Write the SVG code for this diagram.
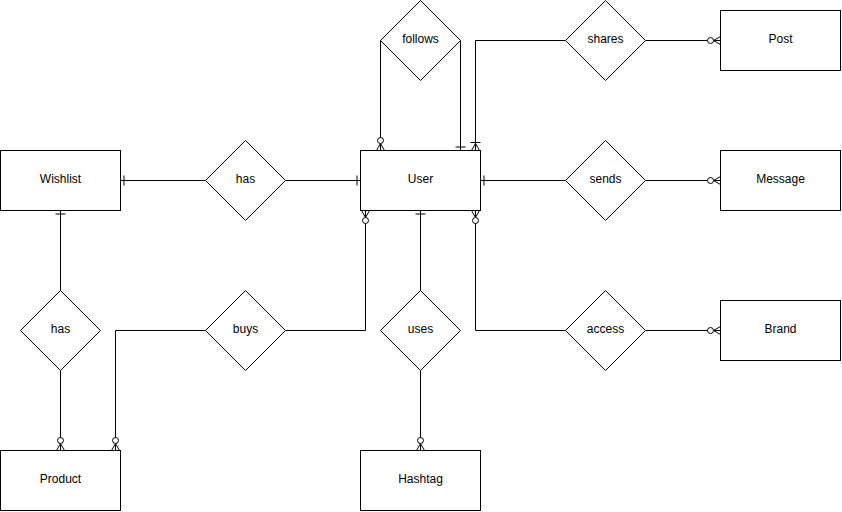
<svg xmlns="http://www.w3.org/2000/svg" width="842" height="512" viewBox="0 0 842 512">
<style>
.ent{fill:#fff;stroke:#000;stroke-width:1}
.rel{fill:#fff;stroke:#000;stroke-width:1}
.lbl{font-family:"Liberation Sans",Arial,sans-serif;font-size:12px;fill:#000;text-anchor:middle;dominant-baseline:central}
.con{fill:none;stroke:#000;stroke-width:1}
</style>
<defs>
<marker id="zeroMany" markerUnits="userSpaceOnUse" orient="auto" refX="0" refY="0" markerWidth="16" markerHeight="12" viewBox="-15 -6 16 12" overflow="visible">
<path d="M-7 0 L0 -4 M-7 0 L0 4 M-7 0 L0 0" fill="none" stroke="#000" stroke-width="1"/>
<circle cx="-10" cy="0" r="3" fill="#fff" stroke="#000" stroke-width="1"/>
</marker>
<marker id="one" markerUnits="userSpaceOnUse" orient="auto" refX="0" refY="0" markerWidth="16" markerHeight="12" viewBox="-15 -6 16 12" overflow="visible">
<path d="M-3.5 -5 L-3.5 5" fill="none" stroke="#000" stroke-width="1"/>
</marker>
<marker id="oneMany" markerUnits="userSpaceOnUse" orient="auto" refX="0" refY="0" markerWidth="16" markerHeight="12" viewBox="-15 -6 16 12" overflow="visible">
<path d="M-7 0 L0 -4 M-7 0 L0 4 M-8 -5 L-8 5" fill="none" stroke="#000" stroke-width="1"/>
</marker>
</defs>
<g id="connectors">
<path class="con" d="M380.5 40.5 L380.5 150.5" marker-end="url(#zeroMany)"/>
<path class="con" d="M460.5 40.5 L460.5 150.5" marker-end="url(#one)"/>
<path class="con" d="M565.5 40.5 L475.5 40.5 L475.5 150.5" marker-end="url(#oneMany)"/>
<path class="con" d="M645.5 40.5 L720.5 40.5" marker-end="url(#zeroMany)"/>
<path class="con" d="M205.5 180.5 L120.5 180.5" marker-end="url(#one)"/>
<path class="con" d="M285.5 180.5 L360.5 180.5" marker-end="url(#one)"/>
<path class="con" d="M565.5 180.5 L480.5 180.5" marker-end="url(#one)"/>
<path class="con" d="M645.5 180.5 L720.5 180.5" marker-end="url(#zeroMany)"/>
<path class="con" d="M60.5 290.5 L60.5 210.5" marker-end="url(#one)"/>
<path class="con" d="M60.5 370.5 L60.5 450.5" marker-end="url(#zeroMany)"/>
<path class="con" d="M205.5 330.5 L115.5 330.5 L115.5 450.5" marker-end="url(#zeroMany)"/>
<path class="con" d="M285.5 330.5 L365.5 330.5 L365.5 210.5" marker-end="url(#zeroMany)"/>
<path class="con" d="M420.5 290.5 L420.5 210.5" marker-end="url(#one)"/>
<path class="con" d="M420.5 370.5 L420.5 450.5" marker-end="url(#zeroMany)"/>
<path class="con" d="M565.5 330.5 L475.5 330.5 L475.5 210.5" marker-end="url(#zeroMany)"/>
<path class="con" d="M645.5 330.5 L720.5 330.5" marker-end="url(#zeroMany)"/>
</g>
<g id="user"><rect class="ent" x="360.5" y="150.5" width="120" height="60"/><text class="lbl" x="420.5" y="179">User</text></g>
<g id="wishlist"><rect class="ent" x="0.5" y="150.5" width="120" height="60"/><text class="lbl" x="60.5" y="179">Wishlist</text></g>
<g id="product"><rect class="ent" x="0.5" y="450.5" width="120" height="60"/><text class="lbl" x="60.5" y="479">Product</text></g>
<g id="hashtag"><rect class="ent" x="360.5" y="450.5" width="120" height="60"/><text class="lbl" x="420.5" y="479">Hashtag</text></g>
<g id="post"><rect class="ent" x="720.5" y="10.5" width="120" height="60"/><text class="lbl" x="780.5" y="39">Post</text></g>
<g id="message"><rect class="ent" x="720.5" y="150.5" width="120" height="60"/><text class="lbl" x="780.5" y="179">Message</text></g>
<g id="brand"><rect class="ent" x="720.5" y="300.5" width="120" height="60"/><text class="lbl" x="780.5" y="329">Brand</text></g>
<g id="follows"><path class="rel" d="M420.5 0.5 L460.5 40.5 L420.5 80.5 L380.5 40.5 Z"/><text class="lbl" x="420.5" y="38.5">follows</text></g>
<g id="shares"><path class="rel" d="M605.5 0.5 L645.5 40.5 L605.5 80.5 L565.5 40.5 Z"/><text class="lbl" x="605.5" y="38.5">shares</text></g>
<g id="has1"><path class="rel" d="M245.5 140.5 L285.5 180.5 L245.5 220.5 L205.5 180.5 Z"/><text class="lbl" x="245.5" y="178.5">has</text></g>
<g id="sends"><path class="rel" d="M605.5 140.5 L645.5 180.5 L605.5 220.5 L565.5 180.5 Z"/><text class="lbl" x="605.5" y="178.5">sends</text></g>
<g id="has2"><path class="rel" d="M60.5 290.5 L100.5 330.5 L60.5 370.5 L20.5 330.5 Z"/><text class="lbl" x="60.5" y="328.5">has</text></g>
<g id="buys"><path class="rel" d="M245.5 290.5 L285.5 330.5 L245.5 370.5 L205.5 330.5 Z"/><text class="lbl" x="245.5" y="328.5">buys</text></g>
<g id="uses"><path class="rel" d="M420.5 290.5 L460.5 330.5 L420.5 370.5 L380.5 330.5 Z"/><text class="lbl" x="420.5" y="328.5">uses</text></g>
<g id="access"><path class="rel" d="M605.5 290.5 L645.5 330.5 L605.5 370.5 L565.5 330.5 Z"/><text class="lbl" x="605.5" y="328.5">access</text></g>
</svg>
